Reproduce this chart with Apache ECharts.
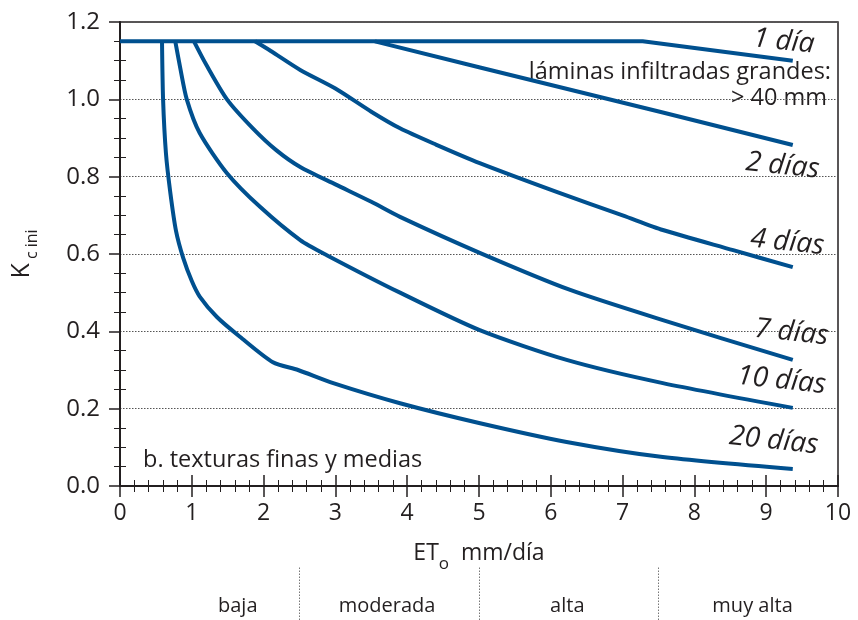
<!DOCTYPE html>
<html><head><meta charset="utf-8">
<script src="https://cdn.jsdelivr.net/npm/echarts@6/dist/echarts.min.js"></script>
<style>html,body{margin:0;padding:0;background:#fff}#c{width:858px;height:620px}</style>
</head><body><div id="c"></div>
<script>
// ---- data ----
const curveNames = ['1 día', '2 días', '4 días', '7 días', '10 días', '20 días'];
const kc1  = [[0, 1.15], [7.28, 1.15], [9.37, 1.10]];
const kc2  = [[3.55, 1.15], [5.0, 1.083], [7.56, 0.966], [9.37, 0.882]];
const kc4  = [[1.88, 1.15], [2.1, 1.125], [2.51, 1.076], [3.0, 1.028], [3.5, 0.968], [3.9, 0.925], [4.4, 0.883], [5.01, 0.835], [6.09, 0.76], [7.0, 0.70], [7.56, 0.662], [8.54, 0.61], [9.37, 0.566]];
const kc7  = [[1.03, 1.15], [1.2, 1.09], [1.49, 1.0], [1.85, 0.925], [2.18, 0.868], [2.51, 0.825], [3.0, 0.78], [3.5, 0.735], [3.9, 0.696], [5.01, 0.603], [6.27, 0.507], [7.56, 0.429], [9.37, 0.326]];
const kc10 = [[0.77, 1.15], [0.84, 1.08], [0.93, 1.0], [1.11, 0.913], [1.49, 0.809], [1.95, 0.722], [2.51, 0.636], [2.88, 0.597], [3.9, 0.50], [5.01, 0.403], [6.22, 0.326], [7.56, 0.266], [9.37, 0.202]];
const kc20 = [[0.585, 1.15], [0.6, 1.0], [0.64, 0.86], [0.70, 0.76], [0.78, 0.66], [0.88, 0.59], [1.0, 0.53], [1.11, 0.49], [1.35, 0.437], [1.67, 0.386], [2.13, 0.32], [2.48, 0.30], [2.97, 0.266], [3.9, 0.214], [5.0, 0.163], [6.22, 0.114], [7.56, 0.075], [9.37, 0.044]];
const curves = [kc1, kc2, kc4, kc7, kc10, kc20];
const zoneNames = ['baja', 'moderada', 'alta', 'muy alta'];
const zoneLabelX = [1.64, 3.72, 6.23, 8.81];
const zoneBounds = [2.5, 5, 7.5];
const xMin = 0, xMax = 10, xStep = 1;
const yMin = 0, yMax = 1.2, yStep = 0.2;

// ---- styling ----
const FONT = 'Open Sans';
const INK = '#231f20';
const BLUE = '#00508f';
const labelOffsets = [[-11, -18], [-8, 22], [-8, -24], [-4, -27], [-14, -26], [-22, -26]];

const chart = echarts.init(document.getElementById('c'), null, {renderer: 'canvas'});

const curveSeries = curves.map((d, i) => ({
  type: 'line', name: curveNames[i], data: d, xAxisIndex: 0, yAxisIndex: 0,
  symbol: 'none', smooth: i < 2 ? false : 0.25, clip: false,
  lineStyle: {color: BLUE, width: 4, cap: 'butt', join: 'round'},
  z: 5,
  markPoint: {
    symbol: 'circle', symbolSize: 0, silent: true,
    data: [{coord: d[d.length - 1], value: curveNames[i]}],
    label: {show: true, formatter: curveNames[i], color: INK, fontFamily: FONT, fontStyle: 'italic',
      fontSize: 28, rotate: -6, offset: labelOffsets[i], position: 'inside'}
  }
}));

const option = {
  animation: false,
  backgroundColor: '#fff',
  grid: [
    {left: 120, right: 20, top: 22, bottom: 134, show: true, borderColor: INK, borderWidth: 1.5, containLabel: false},
    {left: 120, right: 20, top: 566, bottom: 0, show: false}
  ],
  xAxis: [
    {
      type: 'value', min: xMin, max: xMax, interval: xStep,
      gridIndex: 0, position: 'bottom',
      axisLine: {show: true, onZero: false, lineStyle: {color: INK, width: 2}},
      axisTick: {show: true, inside: false, length: 11, lineStyle: {color: INK, width: 1.5}},
      minorTick: {show: true, splitNumber: 5, length: 6, lineStyle: {color: INK, width: 1}},
      axisLabel: {show: true, margin: 16, color: INK, fontFamily: FONT, fontSize: 23},
      splitLine: {show: false},
      name: '{a|ET}{b|o}{c|  mm/día}', nameLocation: 'middle', nameGap: 56,
      nameTextStyle: {rich: {
        a: {fontFamily: FONT, fontSize: 23, color: INK, verticalAlign: 'bottom'},
        b: {fontFamily: FONT, fontSize: 17, color: INK, verticalAlign: 'bottom', padding: [0, 0, -8, 0]},
        c: {fontFamily: FONT, fontSize: 23, color: INK, verticalAlign: 'bottom'}
      }}
    },
    {
      type: 'value', min: xMin, max: xMax, interval: xStep,
      gridIndex: 0, position: 'bottom',
      axisLine: {show: false, onZero: false},
      axisTick: {show: true, inside: true, length: 11, lineStyle: {color: INK, width: 1.5}},
      minorTick: {show: true, splitNumber: 5, length: 6, lineStyle: {color: INK, width: 1}},
      axisLabel: {show: false}, splitLine: {show: false}
    },
    {type: 'value', gridIndex: 1, min: xMin, max: xMax, show: false}
  ],
  yAxis: [
    {
      type: 'value', gridIndex: 0, min: yMin, max: yMax, interval: yStep, position: 'left',
      axisLine: {show: true, onZero: false, lineStyle: {color: INK, width: 2}},
      axisTick: {show: true, inside: false, length: 11, lineStyle: {color: INK, width: 1.5}},
      minorTick: {show: true, splitNumber: 4, length: 6, lineStyle: {color: INK, width: 1}},
      axisLabel: {show: true, margin: 20, color: INK, fontFamily: FONT, fontSize: 24,
        formatter: v => v.toFixed(1)},
      splitLine: {show: true, lineStyle: {color: '#555', width: 1, type: [1.5, 1.5]}},
      name: '{a|K}{b| c ini}', nameLocation: 'middle', nameGap: 86, nameRotate: 90,
      nameTextStyle: {rich: {
        a: {fontFamily: FONT, fontSize: 25, color: INK, verticalAlign: 'bottom'},
        b: {fontFamily: FONT, fontSize: 16, color: INK, verticalAlign: 'bottom', padding: [0, 0, -6, 0]}
      }}
    },
    {
      type: 'value', gridIndex: 0, min: yMin, max: yMax, interval: yStep, position: 'left',
      axisLine: {show: false, onZero: false},
      axisTick: {show: true, inside: true, length: 0, lineStyle: {color: INK, width: 0}},
      minorTick: {show: true, splitNumber: 4, length: 6, lineStyle: {color: INK, width: 1}},
      axisLabel: {show: false}, splitLine: {show: false}
    },
    {type: 'value', gridIndex: 1, min: 0, max: 1, show: false}
  ],
  series: [
    ...curveSeries,
    {
      type: 'line', data: [], xAxisIndex: 0, yAxisIndex: 0, clip: false, silent: true,
      markLine: {
        symbol: 'none', silent: true, label: {show: false},
        lineStyle: {color: '#333', width: 1, type: [1.5, 1.5]},
        data: zoneBounds.map(b => [{coord: [b, 1.182]}, {coord: [b, -0.05]}])
      }
    },
    {
      type: 'line', data: [], xAxisIndex: 2, yAxisIndex: 2, clip: false, silent: true,
      markLine: {
        symbol: 'none', silent: true, label: {show: false},
        lineStyle: {color: '#777', width: 1, type: [1.5, 1.5]},
        data: zoneBounds.map(b => ({xAxis: b}))
      },
      markPoint: {
        symbol: 'circle', symbolSize: 0, silent: true,
        data: zoneLabelX.map((x, i) => ({coord: [x, 0.25], value: zoneNames[i], name: zoneNames[i]})),
        label: {show: true, position: 'inside', formatter: p => p.name, color: INK, fontFamily: FONT, fontSize: 20}
      }
    }
  ],
  graphic: [
    {type: 'text', silent: true, style: {text: 'láminas infiltradas grandes:', x: 831, y: 72, align: 'right', verticalAlign: 'middle', font: '23.5px "Open Sans"', fill: INK}},
    {type: 'text', silent: true, style: {text: '> 40 mm', x: 827, y: 98, align: 'right', verticalAlign: 'middle', font: '23.5px "Open Sans"', fill: INK}},
    {type: 'text', silent: true, style: {text: 'b. texturas finas y medias', x: 143, y: 460, align: 'left', verticalAlign: 'middle', font: '23.5px "Open Sans"', fill: INK}}
  ]
};
chart.setOption(option);
</script>
</body></html>
